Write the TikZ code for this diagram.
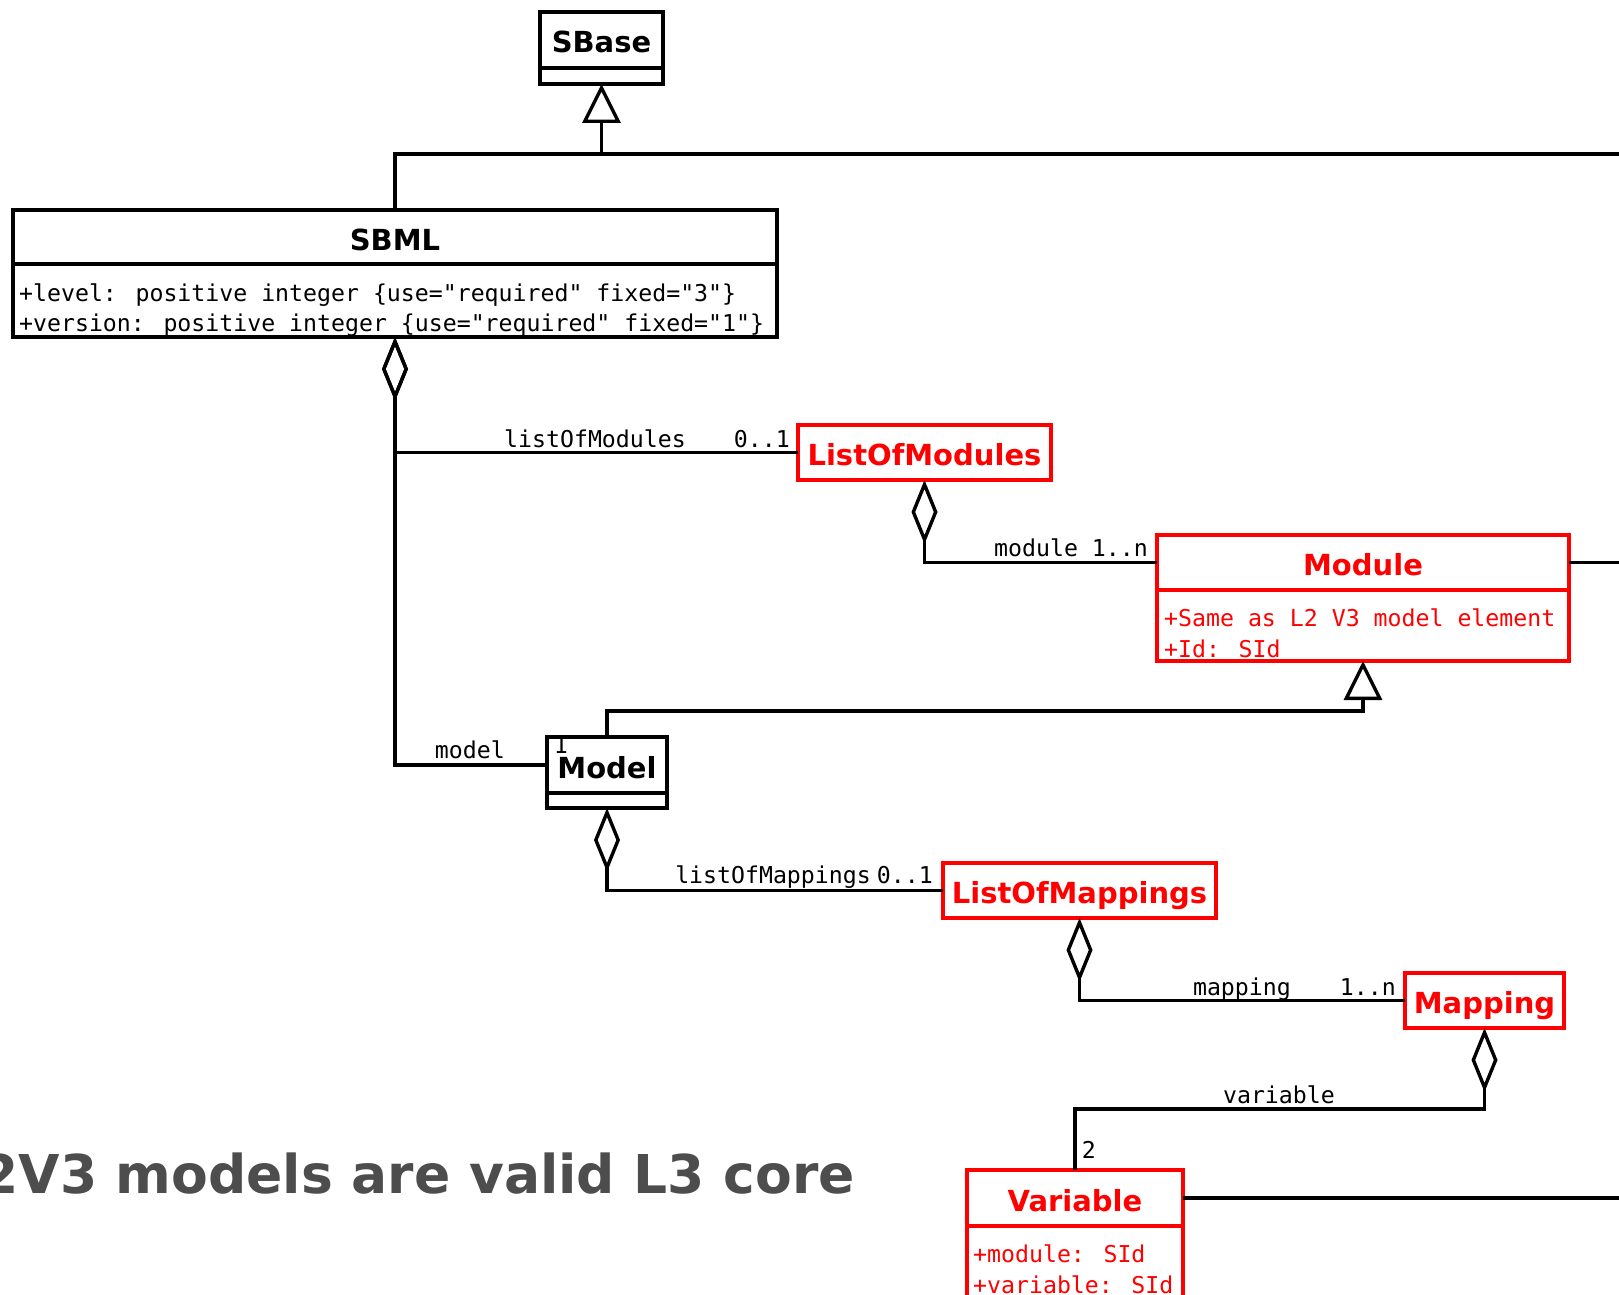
\documentclass[tikz,border=0pt]{standalone}
\usepackage{fontspec}
\setmainfont{DejaVu Sans}
\newfontfamily\umlmono{DejaVu Sans Mono}
\usetikzlibrary{arrows.meta}
\definecolor{notegray}{HTML}{4D4D4D}
\tikzset{
  umlline/.style={line width=3.4pt, draw=black},
  classbox/.style={draw, line width=3.4pt, rectangle, inner sep=0pt, outer sep=0pt,
    fill=white, text height=26pt, text depth=0pt,
    font=\fontsize{29}{32}\selectfont\bfseries},
  oldcls/.style={classbox, draw=black, text=black},
  newcls/.style={classbox, draw=red, text=red},
  emptypart/.style={text height=0pt, text depth=0pt},
  attr/.style={anchor=base west, inner sep=0pt, font=\umlmono\fontsize{23.2}{31}\selectfont},
  role/.style={anchor=base east, inner sep=0pt, font=\umlmono\fontsize{23.2}{31}\selectfont},
  aggr/.style={umlline, {Diamond[open, length=64pt, width=26pt]}-},
  inherit/.style={umlline, -{Triangle[open, length=39pt, width=38pt]}},
}
\begin{document}
\begin{tikzpicture}[x=1pt, y=-1pt]
\useasboundingbox (0,0) rectangle (1619,1295);
\fill[white] (0,0) rectangle (1619,1295);
\clip (0,0) rectangle (1619,1295);

% caption
\node[anchor=base east, inner sep=0pt, text=notegray,
      font=\fontsize{53.5}{60}\selectfont\bfseries] (note) at (855,1193)
      {L2V3 models are valid L3 core};

% SBase
\node[oldcls, minimum width=123pt, minimum height=56pt] (sbaseT) at (601.5,40) {SBase};
\node[oldcls, emptypart, minimum width=123pt, minimum height=16pt] (sbaseA) at (601.5,76) {};

% SBML
\node[oldcls, minimum width=764pt, minimum height=54pt] (sbmlT) at (395,237) {SBML};
\node[oldcls, emptypart, minimum width=764pt, minimum height=73pt] (sbmlA) at (395,300.5) {};
\node[attr] (sbmlL1) at (19,301) {+level: positive integer \{use="required" fixed="3"\}};
\node[attr] (sbmlL2) at (19,331) {+version: positive integer \{use="required" fixed="1"\}};

% ListOfModules
\node[newcls, minimum width=253pt, minimum height=55pt] (lom) at (924.5,452.5) {ListOfModules};

% Module
\node[newcls, minimum width=412pt, minimum height=55pt] (moduleT) at (1363,562.5) {Module};
\node[newcls, emptypart, minimum width=412pt, minimum height=71pt] (moduleA) at (1363,625.5) {};
\node[attr, text=red] (modL1) at (1164,626) {+Same as L2 V3 model element};
\node[attr, text=red] (modL2) at (1164,657) {+Id: SId};

% Model
\node[oldcls, minimum width=120pt, minimum height=56pt] (modelT) at (607,765) {Model};
\node[oldcls, emptypart, minimum width=120pt, minimum height=15pt] (modelA) at (607,800.5) {};

% ListOfMappings
\node[newcls, minimum width=273pt, minimum height=55pt] (lomap) at (1079.5,890.5) {ListOfMappings};

% Mapping
\node[newcls, minimum width=159pt, minimum height=55pt] (mapping) at (1484.5,1000.5) {Mapping};

% Variable
\node[newcls, minimum width=216pt, minimum height=56pt] (varT) at (1075,1198) {Variable};
\node[newcls, emptypart, minimum width=216pt, minimum height=84pt] (varA) at (1075,1268) {};
\node[attr, text=red] (varL1) at (973,1262) {+module: SId};
\node[attr, text=red] (varL2) at (973,1293) {+variable: SId};

% free ends running off to the right
\coordinate (junc) at (601.5,154);
\coordinate (edgeS) at (1619,154);
\coordinate (edgeM) at (1619,562.5);
\coordinate (edgeV) at (1619,1198);

% generalisations
\draw[umlline] (sbmlT.north) |- (junc) -- (edgeS);
\draw[inherit] (junc) -- (sbaseA.south);
\draw[inherit] (modelT.north) -- ++(0,-26) -| (moduleA.south);

% aggregations
\draw[aggr] (sbmlA.south) |- (lom.west);
\draw[aggr] (sbmlA.south) |- (modelT.west);
\draw[aggr] (lom.south) |- (moduleT.west);
\draw[aggr] (modelA.south) |- (lomap.west);
\draw[aggr] (lomap.south) |- (mapping.west);
\draw[aggr] (mapping.south) -- ++(0,81) -| (varT.north);

% associations leaving the picture
\draw[umlline] (moduleT.east) -- (edgeM);
\draw[umlline] (varT.east) -- (edgeV);

% role names and multiplicities
\node[role] (rLom) at (686,447) {listOfModules};
\node[role] (mLom) at (790,447) {0..1};
\node[role] (rMod) at (1148,556) {module 1..n};
\node[role] (rModel) at (505,758) {model};
\node[role] (mModel) at (568,753) {1};
\node[role] (rLomap) at (871,883) {listOfMappings};
\node[role] (mLomap) at (933,883) {0..1};
\node[role] (rMap) at (1291,995) {mapping};
\node[role] (mMap) at (1396,995) {1..n};
\node[role] (rVar) at (1335,1103) {variable};
\node[role] (mVar) at (1096,1158) {2};
\end{tikzpicture}
\end{document}
